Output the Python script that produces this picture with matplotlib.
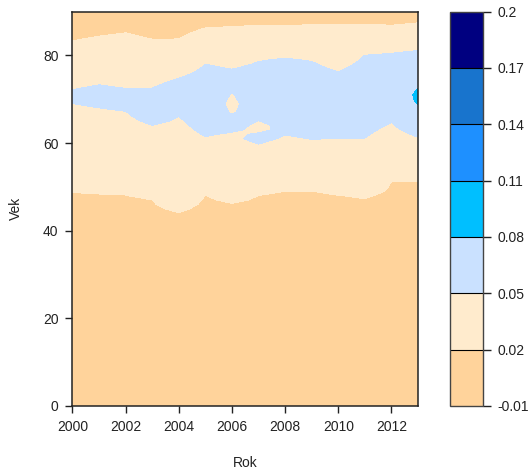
import matplotlib
matplotlib.use("Agg")
import matplotlib.pyplot as plt
import numpy as np

plt.rcParams['font.family'] = ['Liberation Sans', 'DejaVu Sans']

# years on x axis
years = np.arange(2000, 2014)

# ages where the field crosses the contour levels
lo02 = [48.9, 48.7, 48.4, 47.0, 44.3, 48.3, 46.6, 48.1, 49.1, 49.1, 48.3, 47.7, 51.6, 51.6]
lo05 = [69.1, 68.1, 67.5, 64.1, 66.2, 61.4, 62.7, 59.8, 61.8, 60.8, 61.1, 61.1, 64.6, 61.4]
hi05 = [72.1, 73.2, 72.3, 72.5, 74.8, 78.0, 76.9, 78.8, 79.6, 78.8, 76.3, 80.1, 80.8, 81.1]
hi02 = [83.3, 84.4, 85.2, 83.7, 83.7, 86.3, 86.7, 86.9, 86.9, 87.0, 87.2, 87.2, 86.9, 87.5]
# peak inside the blue band (age, value)
peak_age = [70.6, 70.6, 69.9, 68.3, 70.5, 69.7, 69.8, 69.3, 70.7, 69.8, 68.7, 70.6, 72.7, 70.5]
peak_val = [0.058, 0.062, 0.062, 0.064, 0.065, 0.065, 0.062, 0.064, 0.066, 0.066, 0.065, 0.066, 0.060, 0.087]

# small holes below 0.05 inside the band: year -> list of (age, value)
holes = {
    2006: [(64.5, 0.058), (66.4, 0.05), (69.0, 0.045), (71.6, 0.05), (74.0, 0.058)],
    2007: [(61.0, 0.054), (62.3, 0.05), (63.8, 0.046), (65.1, 0.05), (69.3, 0.064)],
}

levels = [-0.01, 0.02, 0.05, 0.08, 0.11, 0.14, 0.17, 0.2]
level_labels = ['-0.01', '0.02', '0.05', '0.08', '0.11', '0.14', '0.17', '0.2']
colors = ['#FFD39B', '#FFEBCD', '#CAE1FF', '#00BFFF', '#1E90FF', '#1874CD', '#000080']

ages = np.arange(0, 90.01, 1.0)
Z = np.zeros((len(ages), len(years)))
for j, yr in enumerate(years):
    if yr in holes:
        mid = holes[yr]
    else:
        mid = [(peak_age[j], peak_val[j])]
    knots = [(0, 0.0), (lo02[j], 0.02), (lo05[j], 0.05)] + mid + \
            [(hi05[j], 0.05), (hi02[j], 0.02), (90, 0.005)]
    ka = [k[0] for k in knots]
    kv = [k[1] for k in knots]
    Z[:, j] = np.interp(ages, ka, kv)

fig = plt.figure(figsize=(5.31, 4.74), dpi=100)
ax = fig.add_axes([0.1365, 0.1435, 0.6507, 0.8319])
cs = ax.contourf(years, ages, Z, levels=levels, colors=colors)
ax.set_xlim(2000, 2013)
ax.set_ylim(0, 90)
ax.set_xticks([2000, 2002, 2004, 2006, 2008, 2010, 2012])
ax.set_yticks([0, 20, 40, 60, 80])
ax.tick_params(direction='out', length=5, width=1, labelsize=10, pad=5, colors='#222222')
for s in ax.spines.values():
    s.set_linewidth(1.1)
    s.set_color('#222222')
ax.set_xlabel('Rok', fontsize=10, color='#222222')
ax.set_ylabel('Vek', fontsize=10, color='#222222')
ax.xaxis.set_label_coords(0.5, -0.128)
ax.yaxis.set_label_coords(-0.142, 0.5)

cax = fig.add_axes([0.8475, 0.1435, 0.0627, 0.8319])
cb = fig.colorbar(cs, cax=cax, drawedges=True)
cb.set_ticks(levels)
cb.set_ticklabels(level_labels)
cb.outline.set_edgecolor('#444444')
cb.outline.set_linewidth(1)
cb.dividers.set_color('black')
cb.dividers.set_linewidth(0.8)
cax.tick_params(direction='out', length=6, width=1, labelsize=10, pad=4, colors='#222222')

fig.savefig('out.png', dpi=100)
